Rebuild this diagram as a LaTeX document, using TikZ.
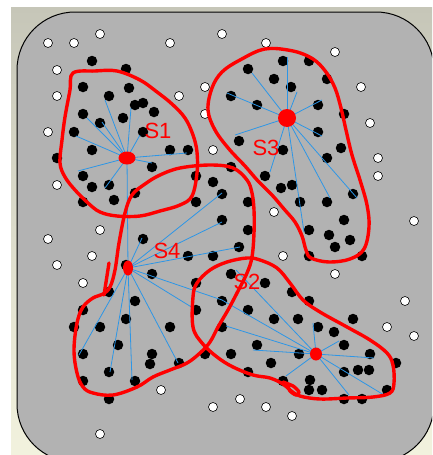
\documentclass[tikz,border=0pt]{standalone}
\usepackage{fontspec}
\newfontfamily\labfont{Liberation Sans}
\usetikzlibrary{shapes.geometric}
\definecolor{panelgray}{RGB}{178,178,178}
\definecolor{linkblue}{RGB}{45,150,230}
\definecolor{frametop}{RGB}{198,198,184}
\definecolor{framebot}{RGB}{242,242,222}
\begin{document}
\begin{tikzpicture}[x=1pt,y=-1pt,
  bdot/.style={circle,fill=black,inner sep=0pt,minimum size=10.5pt},
  wdot/.style={circle,fill=white,draw=black,line width=0.6pt,inner sep=0pt,minimum size=9pt},
  link/.style={draw=linkblue,line width=0.8pt},
  redline/.style={draw=red,line width=3.4pt,line join=round,line cap=round},
  hub/.style={ellipse,fill=red,inner sep=0pt},
  lbl/.style={text=red,font=\labfont\fontsize{22}{22}\selectfont,inner sep=0pt}]
\useasboundingbox (0,0) rectangle (432,455);
\fill[white] (0,0) rectangle (432,455);
\shade[top color=frametop,bottom color=framebot] (11,7) rectangle (432,455);
\begin{scope}
\clip (0,0) rectangle (432,455);
\draw[fill=panelgray,line width=1pt,rounded corners=58pt] (17,12) rectangle (434,462);
\end{scope}
% white dots
\foreach \x/\y [count=\i] in {48/43,74/43,100/34,170/43,222/34,266/43,335/52,57/70,57/96,179/96,205/87,205/114,361/87,370/123,48/132,213/150,378/158,378/176,57/185,274/212,414/221,100/230,48/239,92/256,57/265,83/283,283/256,335/274,405/301,387/327,414/336,161/390,240/399,213/407,266/407,292/416,100/434}
  \node[wdot] (w\i) at (\x,\y) {};
% black dots
\foreach \x/\y [count=\i] in {92/61,126/69,83/87,129/88,109/96,135/105,143/103,154/112,83/114,100/123,123/118,74/132,143/132,92/150,170/150,188/150,57/158,152/167,83/176,92/187,109/185,196/176,213/182,135/193,83/202,114/200,196/202,
283/61,309/61,248/69,274/79,291/87,327/79,231/96,257/105,318/105,344/114,239/141,283/150,318/132,341/148,327/158,231/167,265/176,281/188,292/185,222/194,248/202,300/202,327/202,353/194,222/220,344/220,248/230,309/230,329/235,350/240,335/247,239/247,309/256,362/256,
143/239,188/256,213/256,126/265,152/274,196/283,109/292,135/301,83/310,126/319,100/327,74/327,170/327,196/310,118/345,83/354,152/354,150/364,179/363,205/354,109/372,83/381,135/381,109/399,231/274,222/301,248/310,222/327,231/354,248/372,
265/283,292/292,309/301,274/319,298/319,353/319,318/327,334/332,344/345,257/345,370/354,299/354,271/363,396/363,344/372,358/370,369/370,283/381,310/380,309/390,322/390,387/390,344/399,362/399}
  \node[bdot] (b\i) at (\x,\y) {};
% hubs
\coordinate (S1h) at (127,158);
\coordinate (S2h) at (316,354);
\coordinate (S3h) at (287,118);
\coordinate (S4h) at (128,268);
% links
\foreach \x/\y [count=\i] in {105/100,87/118,102/122,76/136,131/108,140/135,187/153,152/163,78/171,105/188}
  {\coordinate (p\i) at (\x,\y); \draw[link] (S1h) -- (p\i);}
\foreach \x/\y [count=\i] in {287/57,252/73,297/92,227/93,322/100,235/135,322/136,270/172,304/232,330/198,357/198}
  {\coordinate (q\i) at (\x,\y); \draw[link] (S3h) -- (q\i);}
\foreach \x/\y [count=\i] in {142/238,222/193,222/222,240/247,222/300,193/308,178/363,132/380,110/372,79/355}
  {\coordinate (r\i) at (\x,\y); \draw[link] (S4h) -- (r\i);}
\foreach \x/\y [count=\i] in {236/270,222/300,226/326,253/350,313/323,339/341,374/358,286/376,349/395,384/395}
  {\coordinate (t\i) at (\x,\y); \draw[link] (S2h) -- (t\i);}
\draw[link] (S1h) -- (S4h);
% outlines
\draw[redline] plot[smooth cycle,tension=0.6] coordinates {(73,73)(95,71)(117,71)(140,80)(157,92)(172,104)(185,118)(193,135)(197,152)(197,173)(192,196)(180,205)(160,211)(140,216)(117,216)(100,212)(88,203)(75,190)(65,177)(60,163)(62,140)(65,117)(70,90)};
\draw[redline] plot[smooth cycle,tension=0.6] coordinates {(265,49)(293,51)(313,59)(326,72)(335,88)(341,108)(346,130)(352,155)(360,180)(367,205)(369,227)(364,249)(350,259)(329,262)(311,258)(306,250)(302,236)(295,222)(284,209)(272,195)(258,181)(245,166)(229,149)(215,130)(208,110)(212,88)(222,72)(240,60)};
\draw[redline] plot[smooth cycle,tension=0.6] coordinates {(132,195)(145,184)(160,175)(180,168)(210,165)(233,168)(247,180)(252,193)(254,210)(254,233)(252,257)(247,273)(237,293)(228,310)(218,327)(210,342)(200,353)(187,363)(170,370)(153,377)(137,387)(113,395)(93,393)(83,387)(77,373)(74,350)(77,323)(83,307)(93,298)(103,294)(110,287)(115,270)(119,243)(125,213)};
\draw[redline] (109,263) -- (104,295);
\draw[redline] plot[smooth cycle,tension=0.6] coordinates {(197,283)(210,270)(227,262)(247,258)(260,260)(277,268)(290,283)(303,300)(320,312)(347,327)(370,340)(387,353)(393,365)(394,383)(390,393)(373,397)(347,398)(320,399)(300,396)(290,390)(283,384)(270,378)(253,375)(233,367)(217,357)(202,343)(193,327)(193,297)};
\draw[redline] plot[smooth] coordinates {(283,382)(293,386)(299,392)(296,395)(290,391)(288,386)};
% hub markers
\node[hub,minimum width=17pt,minimum height=13pt] (S1) at (S1h) {};
\node[hub,minimum width=12pt,minimum height=13pt] (S2) at (S2h) {};
\node[hub,minimum width=18pt,minimum height=18pt] (S3) at (S3h) {};
\node[hub,minimum width=10pt,minimum height=15pt] (S4) at (S4h) {};
% labels
\node[lbl] (L1) at (158,131) {S1};
\node[lbl] (L2) at (247,282) {S2};
\node[lbl] (L3) at (266,148) {S3};
\node[lbl] (L4) at (167,251) {S4};
\end{tikzpicture}
\end{document}
